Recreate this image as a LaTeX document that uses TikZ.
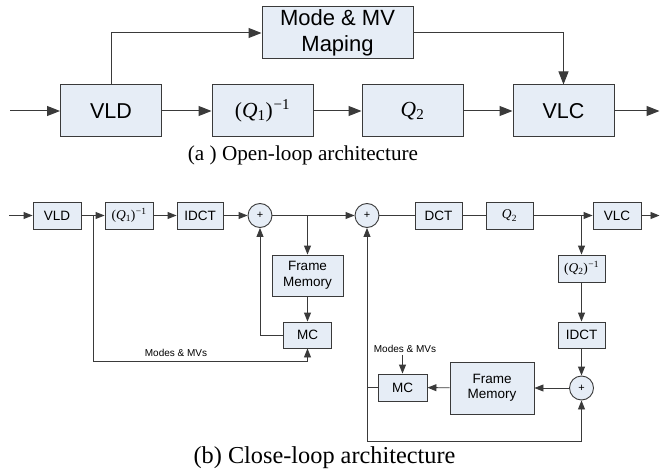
\documentclass[tikz,border=0pt]{standalone}
\usepackage{fontspec}
\setmainfont{Liberation Serif}
\setsansfont{Liberation Sans}
\usetikzlibrary{arrows.meta}
\definecolor{boxfill}{HTML}{E6EDF6}
\definecolor{linec}{HTML}{3A3A3A}
\newcommand\myQinv[1]{{\rmfamily(\textit{Q}\textsubscript{#1})\textsuperscript{\kern0.05em−1}}}
\newcommand\myQ[1]{{\rmfamily\textit{Q}\kern0.02em\textsubscript{#1}}}
\begin{document}
\begin{tikzpicture}[x=1pt,y=-1pt,
  bigbox/.style={draw=linec, fill=boxfill, line width=1pt, inner sep=0pt, align=center,
    minimum width=101pt, minimum height=52pt, font=\sffamily\fontsize{21.5}{25}\selectfont},
  smallbox/.style={draw=linec, fill=boxfill, line width=0.9pt, inner sep=0pt, align=center,
    minimum width=48pt, minimum height=27pt, font=\sffamily\fontsize{13.5}{15.5}\selectfont},
  sumnode/.style={circle, draw=linec, fill=boxfill, line width=0.9pt, minimum size=24pt,
    inner sep=0pt, font=\sffamily\fontsize{11}{12}\selectfont},
  bigarrow/.style={draw=linec, line width=1pt, -{Triangle[length=13pt,width=10pt]}},
  smallarrow/.style={draw=linec, line width=0.9pt, -{Triangle[length=9pt,width=7pt]}},
  plainline/.style={draw=linec, line width=0.9pt},
  smalllabel/.style={font=\sffamily\fontsize{10}{11}\selectfont, inner sep=0pt},
  caption/.style={font=\rmfamily, inner sep=0pt}]
\useasboundingbox (0,0) rectangle (660,473);

% ---------- (a) open loop ----------
\node[bigbox] (vldA) at (111,111) {VLD};
\node[bigbox] (qiA) at (262.5,111) {\myQinv{1}};
\node[bigbox] (qA) at (412.5,111) {\myQ{2}};
\node[bigbox] (vlcA) at (563.5,111) {VLC};
\node[bigbox, minimum width=151pt, font=\sffamily\fontsize{22}{26}\selectfont] (mode) at (337.5,33) {Mode \& MV\\Maping};
\coordinate (inA) at (10,111);
\coordinate (outA) at (659.5,111);
\draw[bigarrow] (inA) -- (vldA);
\draw[bigarrow] (vldA) -- (qiA);
\draw[bigarrow] (qiA) -- (qA);
\draw[bigarrow] (qA) -- (vlcA);
\draw[bigarrow] (vlcA) -- (outA);
\draw[bigarrow] (vldA.north) |- (mode.west);
\draw[bigarrow] (mode.east) -| (vlcA.north);
\node[caption, font=\rmfamily\fontsize{21.2}{24}\selectfont] (capA) at (303,155) {(a ) Open-loop architecture};

% ---------- (b) closed loop ----------
\node[smallbox] (vldB) at (57,215.5) {VLD};
\node[smallbox] (qiB) at (129,215.5) {\myQinv{1}};
\node[smallbox, minimum width=46pt] (idctB) at (200,215.5) {IDCT};
\node[sumnode] (add1) at (260,215.5) {+};
\node[smallbox, minimum width=71pt, minimum height=41pt] (fm1) at (307.5,275.5) {Frame\\Memory};
\node[smallbox, minimum height=26pt] (mc1) at (307.5,335) {MC};
\node[sumnode] (add2) at (367,215.5) {+};
\node[smallbox, minimum width=47pt] (dct) at (438.5,215.5) {DCT};
\node[smallbox, minimum width=47pt] (qB) at (509.5,215.5) {\myQ{2}};
\node[smallbox] (vlcB) at (617,215.5) {VLC};
\node[smallbox, minimum width=47pt] (qiB2) at (581.5,268.5) {\myQinv{2}};
\node[smallbox, minimum width=47pt, minimum height=26pt] (idctB2) at (581.5,335) {IDCT};
\node[sumnode] (add3) at (581.5,388) {+};
\node[smallbox, minimum width=84pt, minimum height=52pt] (fm2) at (492,388) {Frame\\Memory};
\node[smallbox, minimum width=49pt] (mc2) at (402.5,387.5) {MC};
\node[smalllabel] (lab1) at (176,353) {Modes \& MVs};
\node[smalllabel] (lab2) at (405,349) {Modes \& MVs};
\node[caption, font=\rmfamily\fontsize{24.3}{27}\selectfont] (capB) at (324.5,458) {(b) Close-loop architecture};

\coordinate (inB) at (9,215.5);
\coordinate (outB) at (659.5,215.5);
\coordinate (b1) at (93,215.5);
\coordinate (b2) at (307.5,215.5);
\coordinate (b3) at (581.5,215.5);
\coordinate (lowL) at (93,361);
\coordinate (jn) at (367,387.5);
\coordinate (lowR) at (367,441);

\draw[smallarrow] (inB) -- (vldB);
\draw[smallarrow] (vldB) -- (qiB);
\draw[smallarrow] (qiB) -- (idctB);
\draw[smallarrow] (idctB) -- (add1);
\draw[smallarrow] (add1) -- (add2);
\draw[smallarrow] (b2) -- (fm1.north);
\draw[smallarrow] (fm1) -- (mc1);
\draw[smallarrow] (mc1.west) -| (add1.south);
\draw[smallarrow] (b1) -- (lowL) -| (mc1.south);
\draw[plainline] (add2) -- (dct);
\draw[plainline] (dct) -- (qB);
\draw[smallarrow] (qB) -- (vlcB);
\draw[smallarrow] (vlcB) -- (outB);
\draw[smallarrow] (b3) -- (qiB2.north);
\draw[smallarrow] (qiB2) -- (idctB2);
\draw[smallarrow] (idctB2) -- (add3);
\draw[smallarrow] (add3) -- (fm2);
\draw[smallarrow] (fm2) -- (mc2);
\draw[plainline] (mc2.west) -- (jn);
\draw[smallarrow] (jn) -- (add2.south);
\draw[smallarrow] (jn) -- (lowR) -| (add3.south);
\draw[smallarrow] (mc2.north |- lab2.south) ++(0,2) -- (mc2.north);
\end{tikzpicture}
\end{document}
